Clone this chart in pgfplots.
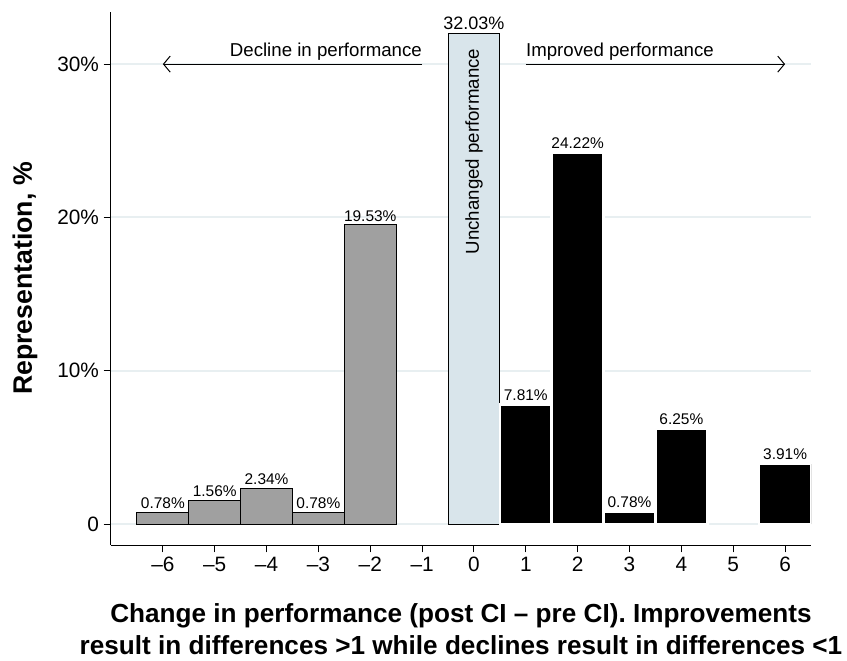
\documentclass[border=0pt]{standalone}
\usepackage{fontspec}
\setmainfont{Liberation Sans}
\usepackage{pgfplots}
\pgfplotsset{compat=1.18}
\usetikzlibrary{arrows.meta}
\definecolor{barneg}{HTML}{A0A0A0}
\definecolor{barzero}{HTML}{D9E5EB}
\definecolor{gridc}{HTML}{E8EFF1}
\begin{document}
\begin{tikzpicture}
\begin{axis}[
  scale only axis, width=525pt, height=399.75pt,
  xmin=-7, xmax=6.5, ymin=-1.37, ymax=33.4,
  axis x line*=bottom, axis y line*=left,
  axis line style={line width=0.75pt, -},
  xtick={-6,-5,-4,-3,-2,-1,0,1,2,3,4,5,6},
  xticklabels={–6,–5,–4,–3,–2,–1,0,1,2,3,4,5,6},
  ytick={0,10,20,30},
  yticklabels={0,10\%,20\%,30\%},
  tick style={black, line width=0.75pt}, major tick length=5.5pt, tick align=outside,
  ymajorgrids, grid style={gridc, line width=1.5pt},
  tick label style={font=\fontsize{15.6}{18}\selectfont},
  /pgf/number format/assume math mode=true,
  xlabel={Change in performance (post CI – pre CI). Improvements\\result in differences >1 while declines result in differences <1},
  xlabel style={at={(axis description cs:0.5,-0.158)}, anchor=center, align=center, font=\fontsize{19.6}{24}\selectfont\bfseries},
  ylabel={Representation, \%},
  ylabel style={at={(axis description cs:-0.123,0.5)}, anchor=center, font=\fontsize{20}{22}\selectfont\bfseries},
  nodes near coords={\pgfmathprintnumber[fixed,fixed zerofill,precision=2]{\pgfplotspointmeta}\%},
  every node near coord/.append style={font=\fontsize{11.6}{13}\selectfont, black, inner sep=2pt},
]
\addplot[ybar, bar width=1, fill=barneg, draw=black, line width=0.75pt] coordinates {
(-6,0.78) (-5,1.56) (-4,2.34) (-3,0.78) (-2,19.53)};
\addplot[ybar, bar width=1, fill=barzero, draw=black, line width=0.75pt,
  every node near coord/.append style={font=\fontsize{13.5}{15}\selectfont}] coordinates {
(0,32.03)};
\addplot[ybar, bar width=1, fill=black, draw=white, line width=2pt] coordinates {
(1,7.81) (2,24.22) (3,0.78) (4,6.25) (6,3.91)};
\draw[-{Straight Barb[length=5pt,width=12pt]}, line width=0.75pt] (axis cs:-1,30) -- (axis cs:-6,30);
\draw[-{Straight Barb[length=5pt,width=12pt]}, line width=0.75pt] (axis cs:1,30) -- (axis cs:6,30);
\node[anchor=south east, inner sep=0pt, font=\fontsize{14}{16}\selectfont] at (axis cs:-1,30.25) {Decline in performance};
\node[anchor=south west, inner sep=0pt, font=\fontsize{14}{16}\selectfont] at (axis cs:1,30.25) {Improved performance};
\node[rotate=90, font=\fontsize{14}{16}\selectfont] at (axis cs:0,24.3) {Unchanged performance};
\end{axis}
\pgfresetboundingbox
\path[use as bounding box] ([xshift=-83.25pt,yshift=-86.25pt]current axis.south west) rectangle ([xshift=27pt,yshift=9pt]current axis.north east);
\end{tikzpicture}
\end{document}
